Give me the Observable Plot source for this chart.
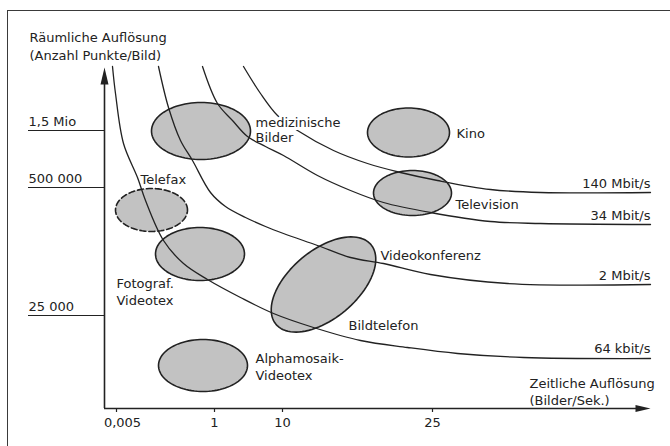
<!DOCTYPE html>
<html>
<head>
<meta charset="utf-8">
<script src="https://cdn.jsdelivr.net/npm/d3@7"></script>
<script src="https://cdn.jsdelivr.net/npm/@observablehq/plot@0.6"></script>
<style>
  html, body { margin: 0; padding: 0; background: #fff; }
  #wrap { position: relative; width: 670px; height: 446px; overflow: hidden; background: #fff; }
  #frame { position: absolute; left: 7px; top: 10px; width: 700px; height: 500px;
           border-left: 1.6px solid #3a3a3a; border-top: 1.6px solid #3a3a3a; pointer-events: none; }
</style>
</head>
<body>
<div id="wrap"><div id="frame"></div></div>
<script>
// Schematic units: x = temporal resolution, y = spatial resolution (arbitrary schematic scale)
const xTickPos = [12, 110, 178, 328];
const xTickLabels = ["0,005", "1", "10", "25"];
const yTickPos = [278, 221, 93];
const yTickLabels = ["1,5 Mio", "500 000", "25 000"];

// Iso-bitrate curves
const rate140M = [[139,342],[156,315],[173,293],[193,278],[229,258],[263,245],[296,236],[333,228],[386,219],[436,216],[546,216]];
const rate34M = [[98,342],[113,305],[128,288],[143,272],[161,262],[179,253],[213,233],[246,218],[279,206],[326,196],[386,187],[436,185],[546,184]];
const rate2M = [[54,342],[64,301],[76,268],[88,248],[106,216],[121,202],[141,191],[161,182],[179,175],[213,163],[246,151],[279,145],[326,134],[403,125],[546,124]];
const rate64k = [[8,342],[11,315],[19,265],[33,231],[41,208],[59,168],[79,145],[103,129],[136,111],[169,95],[209,81],[256,68],[303,61],[353,55],[419,51],[546,50]];
const rateNames = ["140 Mbit/s", "34 Mbit/s", "2 Mbit/s", "64 kbit/s"];
const rateLabelY = [225, 193, 133, 60];

// Application areas (centre, semi-axes, tilt)
const appNames = ["medizinische Bilder", "Kino", "Television", "Telefax", "Fotograf. Videotex", "Alphamosaik-Videotex", "Bildtelefon/Videokonferenz"];
const appCx = [96.5, 304, 308, 47, 95.5, 98.5, 219];
const appCy = [277.5, 276, 215.5, 198.5, 154.5, 43, 124];
const appRx = [49.5, 41, 39, 36, 44.5, 44.5, 62];
const appRy = [28.5, 24.5, 22.5, 21.5, 26.5, 26, 34];
const appTilt = [0, 0, 0, 0, 0, 0, 40];
const appDashed = [false, false, false, true, false, false, false];

// Label texts and anchor points
const labelTexts = ["Bilder", "Kino", "Television", "Telefax", "Fotograf.", "Videotex", "Alphamosaik-", "Videotex", "Videokonferenz", "Bildtelefon"];
const labelX = [151, 352, 351, 36, 12, 12, 151, 151, 276, 244];
const labelY = [271, 275, 204, 229, 125, 108, 50, 33, 153, 83];

const yTitle = ["Räumliche Auflösung", "(Anzahl Punkte/Bild)"];
const xTitle = ["Zeitliche Auflösung", "(Bilder/Sek.)"];

// build tables
const curves = [rate140M, rate34M, rate2M, rate64k].flatMap((c, i) => c.map(([x, y]) => ({rate: rateNames[i], x, y})));
const apps = appNames.map((name, i) => ({name, cx: appCx[i], cy: appCy[i], rx: appRx[i], ry: appRy[i], tilt: appTilt[i], dashed: appDashed[i]}));
function outline(e) {
  const t = e.tilt * Math.PI / 180, pts = [];
  for (let i = 0; i < 96; i++) {
    const a = i / 96 * 2 * Math.PI;
    const ex = e.rx * Math.cos(a), ey = e.ry * Math.sin(a);
    pts.push({name: e.name, x: e.cx + ex * Math.cos(t) - ey * Math.sin(t), y: e.cy + ex * Math.sin(t) + ey * Math.cos(t)});
  }
  return pts;
}
const solidPts = apps.filter(d => !d.dashed).flatMap(outline);
const dashedPts = apps.filter(d => d.dashed).flatMap(outline);
const labels = labelTexts.map((text, i) => ({text, x: labelX[i], y: labelY[i]}));
const rateLabels = rateNames.map((text, i) => ({text, y: rateLabelY[i]}));
const xTicks = xTickPos.map((x, i) => ({x, label: xTickLabels[i]}));
const yTicks = yTickPos.map((y, i) => ({y, label: yTickLabels[i]}));

const ink = "#222";
const headUp = {draw(ctx) { ctx.moveTo(0, 0); ctx.lineTo(4, 17); ctx.lineTo(-4, 17); ctx.closePath(); }};
const headRight = {draw(ctx) { ctx.moveTo(0, 0); ctx.lineTo(-15, 3.5); ctx.lineTo(-15, -3.5); ctx.closePath(); }};

const chart = Plot.plot({
  width: 670,
  height: 446,
  marginLeft: 104,
  marginRight: 20,
  marginTop: 67,
  marginBottom: 38,
  style: {fontFamily: "'DejaVu Sans', sans-serif", fontSize: "13px", color: ink, background: "transparent"},
  x: {domain: [0, 546], axis: null},
  y: {domain: [0, 341], axis: null},
  marks: [
    // areas
    Plot.line(solidPts, {x: "x", y: "y", z: "name", curve: "linear-closed", fill: "#c2c2c2", stroke: ink, strokeWidth: 1.6}),
    Plot.line(dashedPts, {x: "x", y: "y", z: "name", curve: "linear-closed", fill: "#c2c2c2", stroke: ink, strokeWidth: 1.6, strokeDasharray: "6,3"}),
    // iso-bitrate curves
    Plot.line(curves, {x: "x", y: "y", z: "rate", curve: "catmull-rom", stroke: ink, strokeWidth: 1.3}),
    // axes
    Plot.ruleX([0], {y1: 0, y2: 330, stroke: ink, strokeWidth: 1.6}),
    Plot.ruleY([0], {x1: 0, x2: 536, stroke: ink, strokeWidth: 1.6}),
    Plot.dot([0], {x: 0, y: 341, symbol: headUp, r: 1, fill: ink, stroke: null}),
    Plot.dot([0], {x: 546, y: 0, symbol: headRight, r: 1, fill: ink, stroke: null}),
    Plot.ruleX(xTicks, {x: "x", y1: 0, y2: -4, stroke: ink, strokeWidth: 1.2}),
    Plot.ruleY(yTicks, {y: "y", x1: -76, x2: 0, stroke: ink, strokeWidth: 1.2}),
    Plot.text(yTicks, {x: -76, y: "y", dy: -9, text: "label", textAnchor: "start", fill: ink}),
    Plot.text(xTicks.slice(0, 1), {x: "x", y: -14, dx: 6, text: "label", fill: ink}),
    Plot.text(xTicks.slice(1), {x: "x", y: -14, text: "label", fill: ink}),
    Plot.text(yTitle, {x: -75, y: (d, i) => 371 - 18 * i, text: d => d, textAnchor: "start", fill: ink}),
    Plot.text(xTitle, {x: 425, y: (d, i) => 25 - 17 * i, text: d => d, textAnchor: "start", fill: ink}),
    // labels
    Plot.text(["medizinische"], {x: 151, y: 286, text: d => d, textAnchor: "start", fill: ink, stroke: "white", strokeWidth: 6}),
    Plot.text(labels, {x: "x", y: "y", text: "text", textAnchor: "start", fill: ink}),
    Plot.text(rateLabels, {x: 546, y: "y", text: "text", textAnchor: "end", fill: ink})
  ]
});
document.getElementById("wrap").prepend(chart);
</script>
</body>
</html>
